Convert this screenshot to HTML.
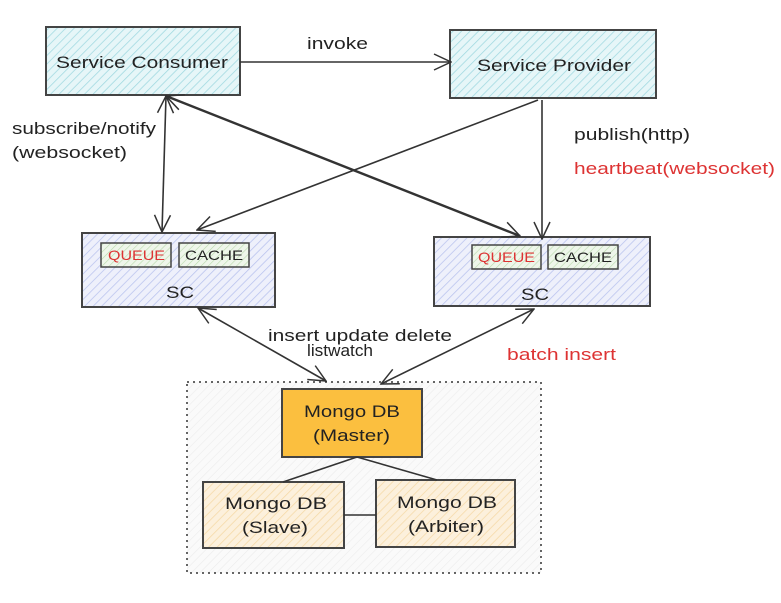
<!DOCTYPE html>
<html><head><meta charset="utf-8"><style>
body{margin:0;background:#fff;width:781px;height:598px;overflow:hidden}
svg text{font-family:"Liberation Sans",sans-serif}
</style></head><body>
<svg width="781" height="598" viewBox="0 0 781 598" xmlns="http://www.w3.org/2000/svg">
<defs>
<pattern id="hb" width="6" height="6" patternUnits="userSpaceOnUse" patternTransform="rotate(45)"><rect width="6" height="6" fill="#e6f6f8"/><line x1="0" y1="0" x2="0" y2="6" stroke="#9fd8e0" stroke-width="1.5"/></pattern>
<pattern id="hs" width="6" height="6" patternUnits="userSpaceOnUse" patternTransform="rotate(45)"><rect width="6" height="6" fill="#eef0fb"/><line x1="0" y1="0" x2="0" y2="6" stroke="#b8c2ee" stroke-width="1.5"/></pattern>
<pattern id="hg" width="5" height="5" patternUnits="userSpaceOnUse" patternTransform="rotate(45)"><rect width="5" height="5" fill="#eef6ea"/><line x1="0" y1="0" x2="0" y2="5" stroke="#b9d9ac" stroke-width="1.2"/></pattern>
<pattern id="hy" width="6" height="6" patternUnits="userSpaceOnUse" patternTransform="rotate(45)"><rect width="6" height="6" fill="#fcf0dc"/><line x1="0" y1="0" x2="0" y2="6" stroke="#f5d9a6" stroke-width="1.5"/></pattern>
<pattern id="hd" width="6" height="6" patternUnits="userSpaceOnUse" patternTransform="rotate(45)"><rect width="6" height="6" fill="#fafafa"/><line x1="0" y1="0" x2="0" y2="6" stroke="#ececec" stroke-width="1.2"/></pattern>
<marker id="a" viewBox="0 0 20 20" refX="19" refY="10" markerWidth="20" markerHeight="20" markerUnits="userSpaceOnUse" orient="auto-start-reverse"><path d="M2 2 L19 10 L2 18" fill="none" stroke="#333" stroke-width="1.5"/></marker>
</defs>
<g stroke="#444" stroke-width="2">
<rect x="46" y="27" width="194" height="68" fill="url(#hb)"/>
<rect x="450" y="30" width="206" height="68" fill="url(#hb)"/>
<rect x="82" y="233" width="193" height="74" fill="url(#hs)"/>
<rect x="434" y="237" width="216" height="69" fill="url(#hs)"/>
</g>
<g stroke="#444" stroke-width="1.5">
<rect x="101" y="243" width="70" height="24" fill="url(#hg)"/>
<rect x="179" y="243" width="70" height="24" fill="url(#hg)"/>
<rect x="472" y="245" width="69" height="24" fill="url(#hg)"/>
<rect x="548" y="245" width="70" height="24" fill="url(#hg)"/>
</g>
<rect x="187" y="382" width="354" height="191" fill="url(#hd)" stroke="#333" stroke-width="1.5" stroke-dasharray="2,4"/>
<rect x="282" y="389" width="140" height="68" fill="#fbbf3f" stroke="#444" stroke-width="2"/>
<rect x="203" y="482" width="141" height="66" fill="url(#hy)" stroke="#444" stroke-width="2"/>
<rect x="376" y="480" width="139" height="67" fill="url(#hy)" stroke="#444" stroke-width="2"/>
<g stroke="#333" stroke-width="1.6" fill="none">
<line x1="240" y1="62" x2="451" y2="62" marker-end="url(#a)"/>
<line x1="166" y1="96" x2="162" y2="232" marker-start="url(#a)" marker-end="url(#a)"/>
<line x1="538" y1="100" x2="197" y2="230" marker-end="url(#a)"/>
<line x1="166" y1="96" x2="520" y2="236" marker-start="url(#a)" marker-end="url(#a)" stroke-width="2.4"/>
<line x1="542" y1="100" x2="542" y2="239" marker-end="url(#a)"/>
<line x1="198" y1="308" x2="326" y2="381" marker-start="url(#a)" marker-end="url(#a)"/>
<line x1="534" y1="309" x2="381" y2="384" marker-start="url(#a)" marker-end="url(#a)"/>
<line x1="357" y1="457" x2="283" y2="482"/>
<line x1="357" y1="457" x2="437" y2="480"/>
<line x1="344" y1="515" x2="376" y2="515"/>
</g>
<g font-size="17" fill="#222" lengthAdjust="spacingAndGlyphs">
<text x="56" y="68" textLength="172" lengthAdjust="spacingAndGlyphs">Service Consumer</text>
<text x="477" y="71" textLength="154" lengthAdjust="spacingAndGlyphs">Service Provider</text>
<text x="307" y="49" textLength="61" lengthAdjust="spacingAndGlyphs">invoke</text>
<text x="166" y="298" textLength="28" lengthAdjust="spacingAndGlyphs">SC</text>
<text x="521" y="300" textLength="28" lengthAdjust="spacingAndGlyphs">SC</text>
<text x="268" y="341" textLength="184" lengthAdjust="spacingAndGlyphs">insert update delete</text>
<text x="307" y="356" textLength="66" lengthAdjust="spacingAndGlyphs">listwatch</text>
<text x="304" y="417" textLength="96" lengthAdjust="spacingAndGlyphs">Mongo DB</text>
<text x="313" y="441" textLength="77" lengthAdjust="spacingAndGlyphs">(Master)</text>
<text x="225" y="509" textLength="102" lengthAdjust="spacingAndGlyphs">Mongo DB</text>
<text x="242" y="533" textLength="66" lengthAdjust="spacingAndGlyphs">(Slave)</text>
<text x="397" y="508" textLength="100" lengthAdjust="spacingAndGlyphs">Mongo DB</text>
<text x="408" y="532" textLength="76" lengthAdjust="spacingAndGlyphs">(Arbiter)</text>
<text x="12" y="134" textLength="144" lengthAdjust="spacingAndGlyphs">subscribe/notify</text>
<text x="12" y="158" textLength="115" lengthAdjust="spacingAndGlyphs">(websocket)</text>
<text x="574" y="140" textLength="116" lengthAdjust="spacingAndGlyphs">publish(http)</text>
<text x="574" y="174" fill="#d33" textLength="201" lengthAdjust="spacingAndGlyphs">heartbeat(websocket)</text>
<text x="507" y="360" fill="#d33" textLength="109" lengthAdjust="spacingAndGlyphs">batch insert</text>
</g>
<g font-size="14">
<text x="108" y="260" fill="#d33" textLength="57" lengthAdjust="spacingAndGlyphs">QUEUE</text>
<text x="185" y="260" fill="#222" textLength="58" lengthAdjust="spacingAndGlyphs">CACHE</text>
<text x="478" y="262" fill="#d33" textLength="57" lengthAdjust="spacingAndGlyphs">QUEUE</text>
<text x="554" y="262" fill="#222" textLength="58" lengthAdjust="spacingAndGlyphs">CACHE</text>
</g>
</svg>
</body></html>
